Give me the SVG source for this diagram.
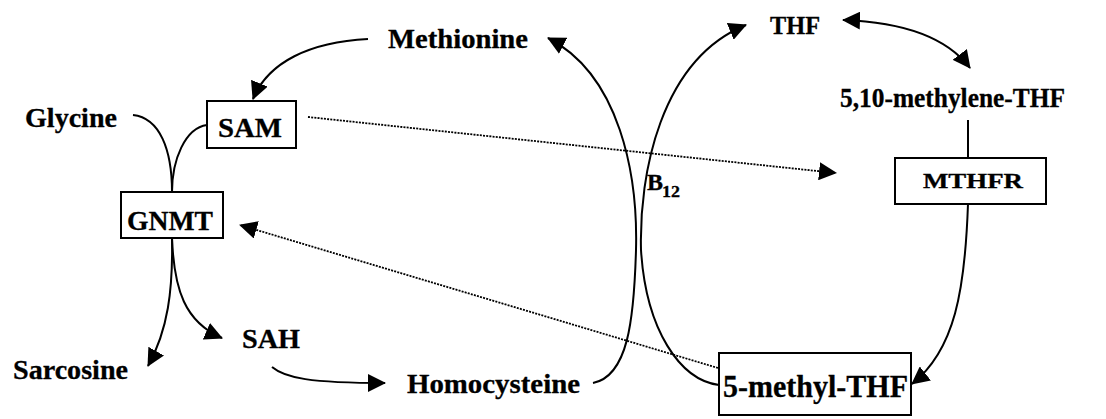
<svg xmlns="http://www.w3.org/2000/svg" width="1106" height="419" viewBox="0 0 1106 419" font-family="'Liberation Serif', 'Times New Roman', serif">
<defs>
<style>
text{font-family:"Liberation Serif","Times New Roman",serif;font-weight:bold;fill:#000;stroke:#000;stroke-width:0.3;}
.t{font-size:27px;}
.box{fill:#fff;stroke:#000;stroke-width:2;}
.c{fill:none;stroke:#000;stroke-width:2;}
.d{fill:none;stroke:#000;stroke-width:1.8;stroke-dasharray:2 1.2;}
</style>
<marker id="ah" markerUnits="userSpaceOnUse" markerWidth="18" markerHeight="18" viewBox="0 0 18 18" refX="17" refY="9" orient="auto-start-reverse">
<path d="M0,0 L18,9 L0,18 z" fill="#000"/>
</marker>
</defs>
<rect width="1106" height="419" fill="#fff"/>
<g id="connectors">
<path class="c" d="M368,39 C310,42 268,62 253,99" marker-end="url(#ah)"/>
<path class="c" d="M133,115 C160,118 172,150 172,192"/>
<path class="c" d="M207,125 C185,128 172,160 172,192"/>
<path class="c" d="M172,238 C173,290 168,330 148,366" marker-end="url(#ah)"/>
<path class="c" d="M172,238 C174,290 185,322 222,338" marker-end="url(#ah)"/>
<path class="c" d="M272,367 C285,378 310,383 385,383" marker-end="url(#ah)"/>
<path class="c" d="M593,383 C628,376 634,320 636,250 C638,175 620,75 548,38" marker-end="url(#ah)"/>
<path class="c" d="M719,385 C680,380 646,330 641,250 C639,175 660,60 746,25" marker-end="url(#ah)"/>
<path class="d" d="M308,117 L836,173" marker-end="url(#ah)"/>
<path class="d" d="M718,368 L240,225" marker-end="url(#ah)"/>
<path class="c" d="M843,20 C900,22 945,35 970,68" marker-start="url(#ah)" marker-end="url(#ah)"/>
<path class="c" d="M968,120 L968,158"/>
<path class="c" d="M968,204 C965,290 955,350 912,384" marker-end="url(#ah)"/>
</g>
<g id="glycine"><text class="t" x="25" y="127" textLength="92" lengthAdjust="spacingAndGlyphs">Glycine</text></g>
<g id="sam"><rect class="box" x="207" y="101" width="89" height="47"/><text class="t" x="218" y="137" textLength="64" lengthAdjust="spacingAndGlyphs">SAM</text></g>
<g id="gnmt"><rect class="box" x="121" y="192" width="102" height="46"/><text class="t" x="127" y="230" textLength="86" lengthAdjust="spacingAndGlyphs">GNMT</text></g>
<g id="methionine"><text class="t" x="388" y="48" textLength="140" lengthAdjust="spacingAndGlyphs">Methionine</text></g>
<g id="sarcosine"><text class="t" x="13" y="379" textLength="115" lengthAdjust="spacingAndGlyphs">Sarcosine</text></g>
<g id="sah"><text class="t" x="242" y="348" textLength="58" lengthAdjust="spacingAndGlyphs">SAH</text></g>
<g id="homocysteine"><text class="t" x="407" y="393" textLength="173" lengthAdjust="spacingAndGlyphs">Homocysteine</text></g>
<g id="thf"><text x="770" y="34" font-size="26" textLength="50" lengthAdjust="spacingAndGlyphs">THF</text></g>
<g id="methylene-thf"><text x="840" y="107" font-size="27" textLength="225" lengthAdjust="spacingAndGlyphs">5,10-methylene-THF</text></g>
<g id="mthfr"><rect class="box" x="895" y="158" width="151" height="46"/><text x="923" y="188" font-size="21" textLength="100" lengthAdjust="spacingAndGlyphs">MTHFR</text></g>
<g id="methyl-thf"><rect class="box" x="719" y="353" width="192" height="62"/><text x="723" y="397" font-size="31" textLength="185" lengthAdjust="spacingAndGlyphs">5-methyl-THF</text></g>
<g id="b12"><text x="647" y="190" font-size="24">B</text><text x="662" y="197" font-size="17" textLength="18" lengthAdjust="spacingAndGlyphs">12</text></g>
</svg>
